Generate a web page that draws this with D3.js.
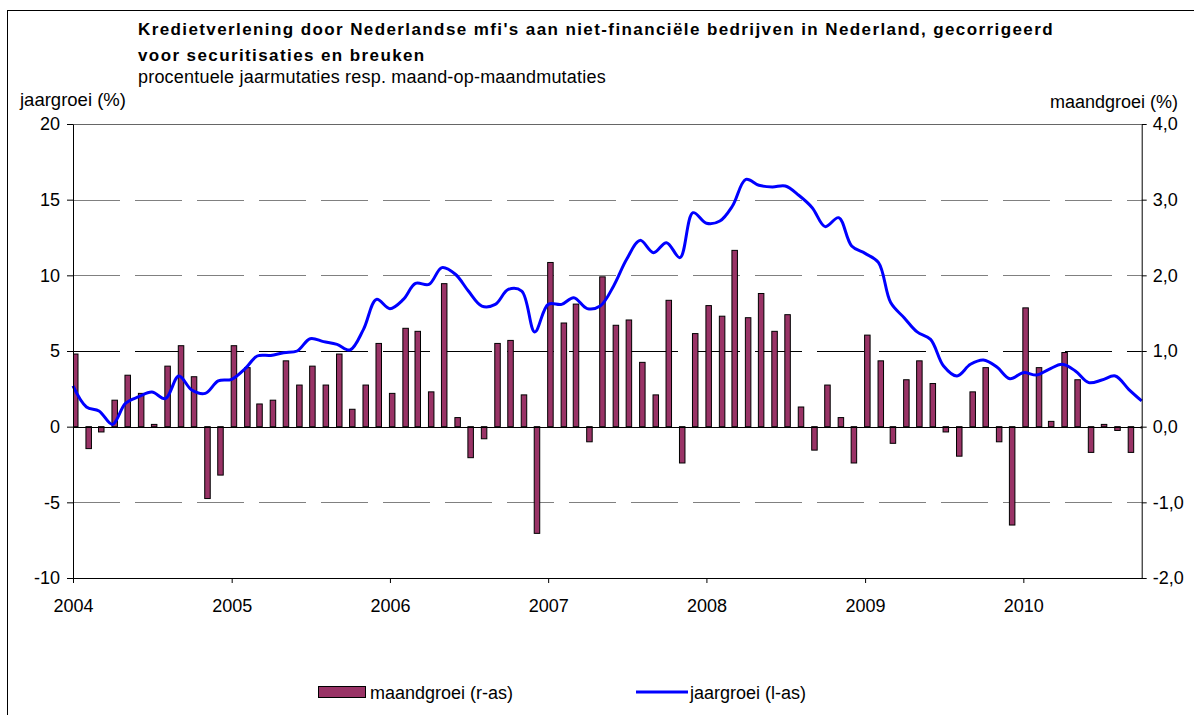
<!DOCTYPE html>
<html lang="nl">
<head>
  <meta charset="UTF-8">
  <title>Kredietverlening</title>
  <script src="https://cdn.jsdelivr.net/npm/d3@7"></script>
  <style>
    body { margin: 0; background: #fff; }
    svg text { font-family: "Liberation Sans", Arial, sans-serif; fill: #000; }
  </style>
</head>
<body>
  <div id="box"></div>
  <script>
    // data: monthly, jan 2004 - okt 2010
    const startMonth = new Date(2004, 0, 1)
    const months = d3.timeMonth.range(startMonth, new Date(2010, 10, 1))

    // maandgroei (%), rechter as
    const maandgroei = [
      0.96, -0.29, -0.07, 0.35, 0.68, 0.44, 0.03, 0.80, 1.07, 0.66, -0.95, -0.64,
      1.07, 0.78, 0.30, 0.35, 0.87, 0.55, 0.80, 0.55, 0.96, 0.23, 0.55, 1.10,
      0.44, 1.30, 1.26, 0.46, 1.89, 0.12, -0.41, -0.16, 1.10, 1.14, 0.42, -1.41,
      2.17, 1.37, 1.62, -0.20, 1.98, 1.34, 1.41, 0.85, 0.42, 1.67, -0.48, 1.23,
      1.60, 1.46, 2.33, 1.44, 1.76, 1.26, 1.48, 0.26, -0.31, 0.55, 0.12, -0.48,
      1.21, 0.87, -0.22, 0.62, 0.87, 0.57, -0.07, -0.39, 0.46, 0.78, -0.20, -1.30,
      1.57, 0.78, 0.07, 0.98, 0.62, -0.34, 0.03, -0.05, -0.34, -0.02
    ]

    // jaargroei (%), linker as
    const jaargroei = [
      2.69, 1.30, 1.04, 0.15, 1.54, 1.98, 2.29, 1.85, 3.35, 2.42, 2.20, 3.02,
      3.13, 3.83, 4.67, 4.71, 4.89, 5.00, 5.81, 5.62, 5.44, 5.07, 6.43, 8.41,
      7.80, 8.41, 9.47, 9.40, 10.51, 10.07, 8.96, 7.97, 8.08, 9.07, 8.96, 6.26,
      8.08, 8.08, 8.52, 7.80, 7.97, 9.30, 11.06, 12.31, 11.50, 12.16, 11.17, 14.14,
      13.44, 13.59, 14.58, 16.34, 15.95, 15.84, 15.90, 15.29, 14.47, 13.22, 13.81, 11.94,
      11.45, 10.84, 8.20, 7.20, 6.26, 5.77, 4.01, 3.35, 4.12, 4.41, 3.94, 3.17,
      3.57, 3.41, 3.79, 4.12, 3.68, 2.91, 3.08, 3.35, 2.47, 1.70
    ]

    const leftTicks = [-10, -5, 0, 5, 10, 15, 20]
    const rightTicks = [-2, -1, 0, 1, 2, 3, 4]

    const titleLines = [
      "Kredietverlening door Nederlandse mfi's aan niet-financiële bedrijven in Nederland, gecorrigeerd",
      'voor securitisaties en breuken'
    ]
    const subtitle = 'procentuele jaarmutaties resp. maand-op-maandmutaties'

    // layout
    const width = 1194
    const height = 715
    const plot = { left: 73, right: 1141.7, top: 124, bottom: 578 }

    const nl = d3.formatLocale({ decimal: ',', thousands: '.', grouping: [3], currency: ['€', ''], minus: '-' })

    const svg = d3.select('#box').append('svg')
      .attr('width', width)
      .attr('height', height)

    // frame
    svg.append('rect')
      .attr('x', 7.5).attr('y', 10.5)
      .attr('width', 1200).attr('height', 800)
      .attr('fill', 'none').attr('stroke', '#000')

    // scales
    const x = d3.scaleTime()
      .domain([startMonth, new Date(2010, 9, 1)])
      .range([plot.left, plot.right])
    const yL = d3.scaleLinear().domain([-10, 20]).range([plot.bottom, plot.top])
    const yR = d3.scaleLinear().domain([-2, 4]).range([plot.bottom, plot.top])

    // grid
    const grid = svg.append('g')
    grid.selectAll('line')
      .data(leftTicks.filter(d => d !== 0 && d !== -10 && d !== 20))
      .join('line')
      .attr('x1', plot.left).attr('x2', plot.right)
      .attr('y1', d => Math.round(yL(d)) + 0.5).attr('y2', d => Math.round(yL(d)) + 0.5)
      .attr('stroke', d => d === 5 ? '#000' : '#808080')
      .attr('stroke-dasharray', '47,15')
    svg.append('line')
      .attr('x1', plot.left).attr('x2', plot.right)
      .attr('y1', plot.top + 0.5).attr('y2', plot.top + 0.5)
      .attr('stroke', '#666')

    // bars
    svg.append('clipPath').attr('id', 'clip')
      .append('rect')
      .attr('x', plot.left).attr('y', plot.top)
      .attr('width', plot.right - plot.left).attr('height', plot.bottom - plot.top)

    svg.append('g')
      .attr('clip-path', 'url(#clip)')
      .selectAll('rect')
      .data(maandgroei)
      .join('rect')
      .attr('x', (d, i) => x(months[i]) - 0.5)
      .attr('width', 5.5)
      .attr('y', d => yR(Math.max(0, d)))
      .attr('height', d => Math.max(1, Math.abs(yR(d) - yR(0))))
      .attr('fill', '#993366')
      .attr('stroke', '#000')
      .attr('stroke-width', 1)

    // zero line
    svg.append('line')
      .attr('x1', plot.left).attr('x2', plot.right)
      .attr('y1', Math.round(yL(0)) + 0.5).attr('y2', Math.round(yL(0)) + 0.5)
      .attr('stroke', '#000')

    // line
    const line = d3.line()
      .x((d, i) => x(months[i]))
      .y(d => yL(d))
      .curve(d3.curveCatmullRom)
    svg.append('path')
      .datum(jaargroei)
      .attr('d', line)
      .attr('fill', 'none')
      .attr('stroke', '#0000ff')
      .attr('stroke-width', 3)
      .attr('stroke-linejoin', 'round')

    // axes
    const styleAxis = g => {
      g.select('.domain').attr('stroke', '#000')
      g.selectAll('.tick line').attr('stroke', '#000')
      g.selectAll('.tick text').attr('font-size', 18).attr('font-family', '"Liberation Sans", Arial, sans-serif')
    }

    svg.append('g')
      .attr('transform', `translate(${plot.left},0)`)
      .call(d3.axisLeft(yL).tickValues(leftTicks).tickSize(6).tickSizeOuter(0).tickPadding(7).tickFormat(nl.format('d')))
      .call(styleAxis)

    svg.append('g')
      .attr('transform', `translate(${plot.right},0)`)
      .call(d3.axisRight(yR).tickValues(rightTicks).tickSize(5).tickSizeOuter(0).tickPadding(6).tickFormat(nl.format('.1f')))
      .call(styleAxis)

    svg.append('g')
      .attr('transform', `translate(0,${plot.bottom})`)
      .call(d3.axisBottom(x).ticks(d3.timeYear).tickSize(5).tickSizeOuter(0).tickPadding(16).tickFormat(d3.timeFormat('%Y')))
      .call(styleAxis)

    // titles
    svg.append('g').selectAll('text')
      .data(titleLines)
      .join('text')
      .attr('x', 138).attr('y', (d, i) => 35 + i * 26)
      .attr('font-size', 17).attr('font-weight', 'bold')
      .attr('letter-spacing', 1.4)
      .text(d => d)
    svg.append('text')
      .attr('x', 138).attr('y', 83)
      .attr('font-size', 18)
      .attr('letter-spacing', 0.2)
      .text(subtitle)

    svg.append('text')
      .attr('x', 20).attr('y', 106)
      .attr('font-size', 18.5)
      .text('jaargroei (%)')
    svg.append('text')
      .attr('x', 1178).attr('y', 108)
      .attr('text-anchor', 'end')
      .attr('font-size', 18)
      .text('maandgroei (%)')

    // legend
    const legend = svg.append('g').attr('transform', 'translate(0,692)')
    legend.append('rect')
      .attr('x', 318.5).attr('y', -5.5).attr('width', 47).attr('height', 11)
      .attr('fill', '#993366').attr('stroke', '#000')
    legend.append('text')
      .attr('x', 370).attr('y', 6.5).attr('font-size', 18)
      .text('maandgroei (r-as)')
    legend.append('line')
      .attr('x1', 636).attr('x2', 688).attr('y1', 0).attr('y2', 0)
      .attr('stroke', '#0000ff').attr('stroke-width', 3)
    legend.append('text')
      .attr('x', 690).attr('y', 6.5).attr('font-size', 18)
      .text('jaargroei (l-as)')
  </script>
</body>
</html>
